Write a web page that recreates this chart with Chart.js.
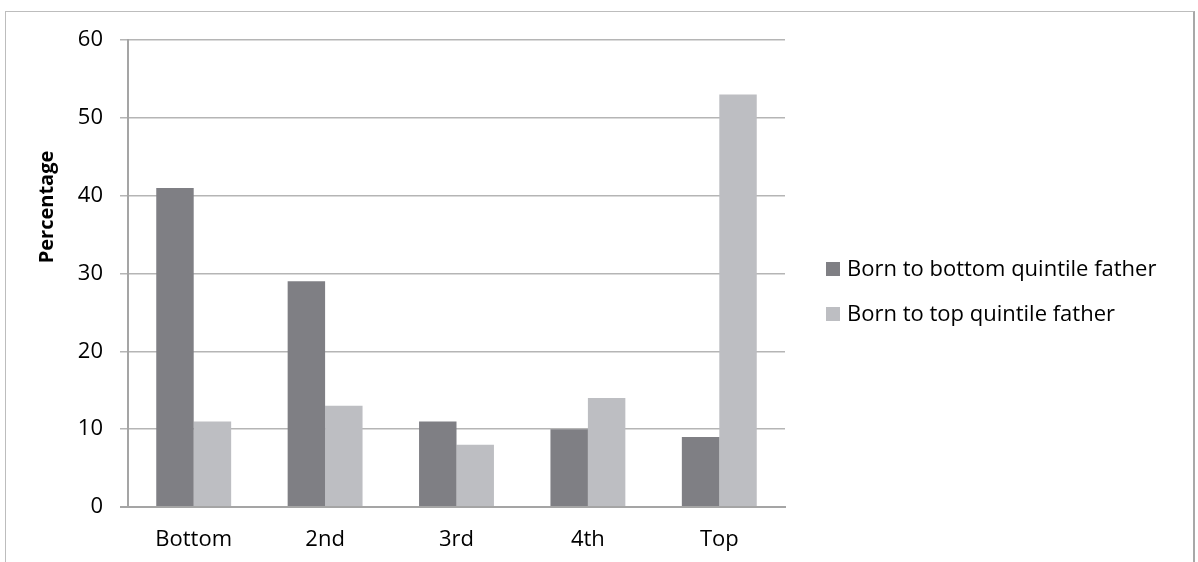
<!DOCTYPE html>
<html lang="en">
<head>
    <meta charset="UTF-8">
    <title>Income quintile by father's quintile</title>
    <script src="https://cdn.jsdelivr.net/npm/chart.js"></script>
    <style>
        body {
            margin: 0;
            background: #ffffff;
        }

        .frame {
            position: absolute;
            left: 5px;
            top: 11px;
            width: 1187px;
            height: 600px;
            border-top: 1.5px solid #bdbdbd;
            border-left: 1.5px solid #bdbdbd;
            border-right: 2px solid #a8a8a8;
        }

        .wrap {
            position: absolute;
            left: 0;
            top: 0;
            width: 1198px;
            height: 562px;
        }
    </style>
</head>
<body>
    <div class="frame"></div>
    <div class="wrap"><canvas id="mobilityChart"></canvas></div>

    <script>
        const categories = ['Bottom', '2nd', '3rd', '4th', 'Top'];
        const seriesNames = ['Born to bottom quintile father', 'Born to top quintile father'];
        const bornBottom = [41, 29, 11, 10, 9];
        const bornTop = [11, 13, 8, 14, 53];
        const yTicks = [0, 10, 20, 30, 40, 50, 60];
        const axisTitle = 'Percentage';

        const FONT = "'Open Sans', sans-serif";

        // y title and legend sit where Excel put them, so draw them by hand
        const sideText = {
            id: 'sideText',
            afterDraw(chart) {
                const ctx = chart.ctx;
                ctx.save();
                ctx.fillStyle = '#000';
                ctx.font = `bold 20px ${FONT}`;
                ctx.textAlign = 'center';
                ctx.textBaseline = 'middle';
                ctx.translate(47, 207);
                ctx.rotate(-Math.PI / 2);
                ctx.fillText(axisTitle, 0, 0);
                ctx.restore();

                ctx.save();
                ctx.font = `22px ${FONT}`;
                ctx.textBaseline = 'middle';
                chart.data.datasets.forEach((ds, i) => {
                    const cy = 269 + i * 45;
                    ctx.fillStyle = ds.backgroundColor;
                    ctx.fillRect(826, cy - 7, 14, 14);
                    ctx.fillStyle = '#000';
                    ctx.fillText(ds.label, 847, cy + 1);
                });
                ctx.restore();
            }
        };

        new Chart(document.getElementById('mobilityChart'), {
            type: 'bar',
            data: {
                labels: categories,
                datasets: [
                    { label: seriesNames[0], data: bornBottom, backgroundColor: '#7f7f84' },
                    { label: seriesNames[1], data: bornTop, backgroundColor: '#bdbec2' }
                ]
            },
            options: {
                responsive: true,
                maintainAspectRatio: false,
                animation: false,
                layout: { padding: { top: 40, right: 413, left: 0, bottom: 0 } },
                datasets: { bar: { categoryPercentage: 0.57, barPercentage: 1 } },
                plugins: {
                    legend: { display: false },
                    tooltip: { enabled: false }
                },
                scales: {
                    x: {
                        grid: { display: false, drawTicks: false },
                        border: { display: true, color: '#a5a5a5', width: 2 },
                        ticks: { color: '#000', padding: 20, font: { family: FONT, size: 22 } },
                        afterFit: s => { s.height = 55; }
                    },
                    y: {
                        min: 0,
                        max: 60,
                        afterBuildTicks: s => { s.ticks = yTicks.map(v => ({ value: v })); },
                        grid: {
                            color: c => c.tick && c.tick.value === 0 ? '#a5a5a5' : '#b5b5b5',
                            lineWidth: c => c.tick && c.tick.value === 0 ? 2 : 1.5,
                            tickLength: 8
                        },
                        border: { display: true, color: '#a5a5a5', width: 2 },
                        ticks: { color: '#000', padding: 17, font: { family: FONT, size: 22 } },
                        afterFit: s => { s.width = 128; }
                    }
                }
            },
            plugins: [sideText]
        });
    </script>
</body>
</html>
